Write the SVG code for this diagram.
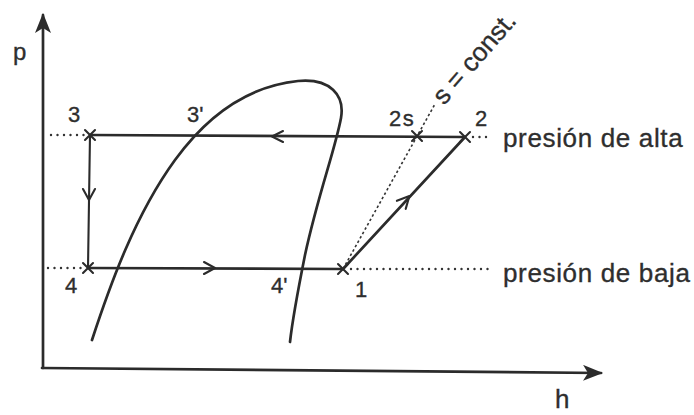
<svg xmlns="http://www.w3.org/2000/svg" width="694" height="415" viewBox="0 0 694 415">
<style>
.ln{fill:none;stroke:#2b2b2b;stroke-width:2.7;stroke-linecap:round;stroke-linejoin:round}
.th{fill:none;stroke:#2b2b2b;stroke-width:2.1;stroke-linecap:round;stroke-linejoin:round}
.dot{fill:none;stroke:#333;stroke-width:2.4;stroke-linecap:round;stroke-dasharray:0 6.5}
.dl{fill:none;stroke:#333;stroke-width:1.6;stroke-dasharray:2.5 2.5}
.t{font-family:"Liberation Sans",Arial,sans-serif;fill:#2e2e2e;stroke:#2e2e2e;stroke-width:0.35}
.lab{font-size:22px}
.big{font-size:26px;letter-spacing:0.65px}
</style>
<defs>
<marker id="ax" viewBox="0 0 20 16" refX="18" refY="8" markerWidth="20" markerHeight="16" markerUnits="userSpaceOnUse" orient="auto">
<path d="M0,0 L20,8 L0,16 L5,8 Z" fill="#2b2b2b"/>
</marker>
<path id="cross" d="M-5,-5 L5,5 M-5,5 L5,-5" class="th"/>
</defs>
<rect width="694" height="415" fill="#fff"/>

<g id="axes">
<line class="ln" x1="43" y1="368" x2="43" y2="15" marker-end="url(#ax)"/>
<line class="ln" x1="42" y1="368" x2="601" y2="373" marker-end="url(#ax)"/>
<text class="t" x="13" y="60" font-size="24">p</text>
<text class="t" x="555" y="408" font-size="26">h</text>
</g>

<g id="dome">
<path class="ln" d="M92,340 C110,285 135,215 175,160 C210,112 250,86 298,81 C330,78 345,95 341,118 C335,150 318,195 305,255 C300,280 293,315 290,342"/>
<text class="t lab" x="187" y="122">3'</text>
<text class="t lab" x="271" y="293">4'</text>
</g>

<g id="connectors">
<line class="ln" x1="90" y1="135" x2="465" y2="137"/>
<line class="ln" x1="88" y1="268" x2="343" y2="269"/>
<line class="th" x1="90" y1="135" x2="88" y2="268"/>
<line class="ln" x1="343" y1="269" x2="465" y2="137"/>
<path class="th" d="M283,131 L272,136.5 L283,142"/>
<path class="th" d="M83,189 L89,200 L95,189"/>
<path class="th" d="M204,262 L215,268 L204,274"/>
<path class="th" d="M396.9,200.8 L409.4,196 L405.7,208.9"/>
<line class="dl" x1="343" y1="269" x2="435" y2="104"/>
<line class="dot" x1="51" y1="135" x2="84" y2="135"/>
<line class="dot" x1="48" y1="268" x2="82" y2="268"/>
<line class="dot" x1="473" y1="137" x2="492" y2="137"/>
<line class="dot" x1="351" y1="269" x2="492" y2="269"/>
</g>

<g id="n3"><use href="#cross" x="90" y="135"/><text class="t lab" x="68" y="122">3</text></g>
<g id="n2s"><use href="#cross" x="417" y="136"/><text class="t lab" x="389" y="126" letter-spacing="1.5">2s</text></g>
<g id="n2"><use href="#cross" x="465" y="137"/><text class="t lab" x="475" y="126">2</text></g>
<g id="n4"><use href="#cross" x="88" y="268"/><text class="t lab" x="65" y="293">4</text></g>
<g id="n1"><use href="#cross" x="343" y="269"/><text class="t lab" x="355" y="297">1</text></g>

<g id="labels">
<text class="t big" x="503" y="147">presión de alta</text>
<text class="t big" x="503" y="282">presión de baja</text>
<text class="t" font-size="26" transform="translate(444,106) rotate(-49)">s = const.</text>
</g>
</svg>
